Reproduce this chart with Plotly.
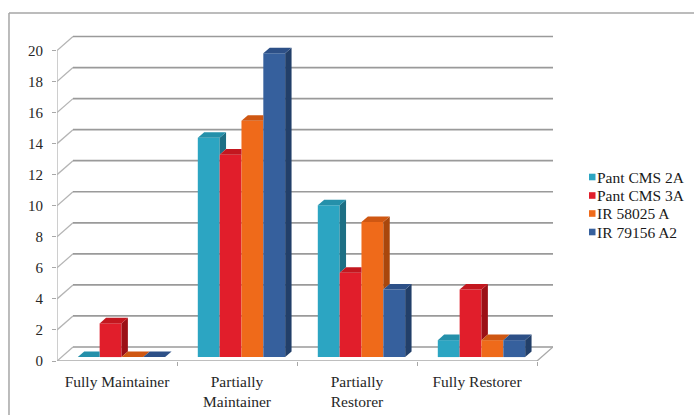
import plotly.graph_objects as go

# Share of lines (%) in each fertility-restoration class, per CMS line
categories = ["Fully Maintainer", "Partially Maintainer", "Partially Restorer", "Fully Restorer"]
tick_labels = ["Fully Maintainer", "Partially<br>Maintainer", "Partially<br>Restorer", "Fully Restorer"]
series_names = ["Pant CMS 2A", "Pant CMS 3A", "IR 58025 A", "IR 79156 A2"]
pant_cms_2a = [0.00, 14.13, 9.78, 1.09]
pant_cms_3a = [2.17, 13.04, 5.43, 4.35]
ir_58025_a = [0.00, 15.22, 8.70, 1.09]
ir_79156_a2 = [0.00, 19.57, 4.35, 1.09]
y_ticks = list(range(0, 21, 2))

series_values = [pant_cms_2a, pant_cms_3a, ir_58025_a, ir_79156_a2]
# (front, top, side) shades for the pseudo-3D columns
shades = [
    ("#2CA5C2", "#2590AA", "#1D6F84"),
    ("#E11E2B", "#C3171F", "#9C1016"),
    ("#EF6A1A", "#CF5712", "#A9470C"),
    ("#36609D", "#2D5087", "#223F69"),
]

# plot-area geometry in pixels (used to place the hand-built legend)
PLOT_L, PLOT_W = 57, 496
PLOT_B, PLOT_H = 361, 326

# oblique projection: depth vector of the chart box, in axis units
DX, DY = 0.1333, 0.902
F0, F1 = 0.28, 0.68          # front / back depth of the columns
W = 0.182                    # column width (category units)
G = W * len(series_values)
XMAX = 3.5 + DX
YMAX = 21.0

fig = go.Figure()

bx, by = F0 * DX, F0 * DY
ex, ey = (F1 - F0) * DX, (F1 - F0) * DY

# front faces
for i, (name, vals) in enumerate(zip(series_names, series_values)):
    fig.add_trace(go.Bar(
        x=list(range(len(categories))), y=vals, base=[by] * len(vals),
        offset=-G / 2 + i * W + bx, width=W, name=name,
        marker=dict(color=shades[i][0], line=dict(width=0)),
        hovertext=categories, hoverinfo="name+text", showlegend=False,
    ))

# top and side faces
n = len(series_values)
for c in range(len(categories)):
    for i in range(n):
        v = series_values[i][c]
        xl = c - G / 2 + i * W + bx
        xr = xl + W
        nxt = series_values[i + 1][c] if i + 1 < n else 0.0
        yt = by + v
        # side face: only the part rising above the neighbouring column
        if v > nxt:
            yb0 = by + nxt
            fig.add_trace(go.Scatter(
                x=[xr, xr + ex, xr + ex, xr, xr],
                y=[yb0, yb0 + ey, yt + ey, yt, yb0],
                fill="toself", fillcolor=shades[i][2], mode="lines",
                line=dict(width=0), hoverinfo="skip", showlegend=False))
        # top face, cut where the next column stands in front of it
        if nxt > v:
            px = [xl, xr, xr, xl + ex, xl]
        else:
            px = [xl, xr, xr + ex, xl + ex, xl]
        py = [yt, yt, yt + ey, yt + ey, yt]
        fig.add_trace(go.Scatter(
            x=px, y=py, fill="toself", fillcolor=shades[i][1], mode="lines",
            line=dict(width=0), hoverinfo="skip", showlegend=False))

# back wall grid, side-wall diagonals and floor edges
grid_col = "#9A9A9A"
shapes = []
for t in y_ticks:
    shapes.append(dict(type="line", xref="x", yref="y", x0=-0.5, y0=t,
                       x1=-0.5 + DX, y1=t + DY, layer="below",
                       line=dict(color="#B4B4B4", width=1.3)))
    shapes.append(dict(type="line", xref="x", yref="y", x0=-0.5 + DX, y0=t + DY,
                       x1=XMAX, y1=t + DY, layer="below",
                       line=dict(color=grid_col, width=1.7)))
shapes.append(dict(type="line", xref="x", yref="y", x0=-0.5, y0=0, x1=3.5, y1=0,
                   layer="below", line=dict(color="#A8A8A8", width=1.3)))
shapes.append(dict(type="line", xref="x", yref="y", x0=3.5, y0=0, x1=XMAX, y1=DY,
                   layer="below", line=dict(color="#A8A8A8", width=1.3)))
shapes.append(dict(type="line", xref="x", yref="y", x0=-0.5, y0=0, x1=-0.5, y1=y_ticks[-1],
                   layer="below", line=dict(color="#B4B4B4", width=1.3)))
# chart frame (top and left edges)
shapes.append(dict(type="line", xref="paper", yref="paper", x0=-0.0968, y0=1.0675,
                   x1=1.3, y1=1.0675, line=dict(color="#A6A6A6", width=1.5)))
shapes.append(dict(type="line", xref="paper", yref="paper", x0=-0.0968, y0=1.0675,
                   x1=-0.0968, y1=-0.2, line=dict(color="#A6A6A6", width=1.5)))

font_family = "Liberation Serif"

# legend: small colour squares with the series names beside them
annotations = []
legend_y_px = [177, 195.5, 213.5, 232]
for i, name in enumerate(series_names):
    yc = (PLOT_B - legend_y_px[i]) / PLOT_H
    x0 = (589 - PLOT_L) / PLOT_W
    x1 = (595.5 - PLOT_L) / PLOT_W
    h = 3.3 / PLOT_H
    shapes.append(dict(type="rect", xref="paper", yref="paper",
                       x0=x0, x1=x1, y0=yc - h, y1=yc + h,
                       fillcolor=shades[i][0], line=dict(width=0)))
    annotations.append(dict(xref="paper", yref="paper", x=(595 - PLOT_L) / PLOT_W, y=yc,
                            xanchor="left", yanchor="middle", showarrow=False,
                            text=name, font=dict(family=font_family, size=15.5, color="#1A1A1A")))

fig.update_layout(
    width=694, height=415,
    margin=dict(l=PLOT_L, r=694 - PLOT_L - PLOT_W, t=PLOT_B - PLOT_H, b=415 - PLOT_B),
    paper_bgcolor="white", plot_bgcolor="white",
    barmode="overlay",
    shapes=shapes,
    annotations=annotations,
    font=dict(family=font_family, size=15, color="#262626"),
    showlegend=False,
    xaxis=dict(range=[-0.5, XMAX], tickvals=[0, 1, 2, 3], ticktext=tick_labels,
               ticks="", showgrid=False, zeroline=False, showline=False,
               ticklabelstandoff=9, automargin=False,
               tickfont=dict(family=font_family, size=15.5, color="#262626"),
               minor=dict(tickvals=[0.5, 1.5, 2.5, 3.5], ticks="outside",
                          ticklen=4, tickcolor="#A8A8A8", showgrid=False)),
    yaxis=dict(range=[0, YMAX], tickvals=y_ticks, ticks="outside", ticklen=4,
               tickcolor="#A8A8A8", showgrid=False, zeroline=False, showline=False,
               ticklabelstandoff=6, automargin=False,
               tickfont=dict(family=font_family, size=15, color="#262626")),
)

fig.write_html("out.html")
